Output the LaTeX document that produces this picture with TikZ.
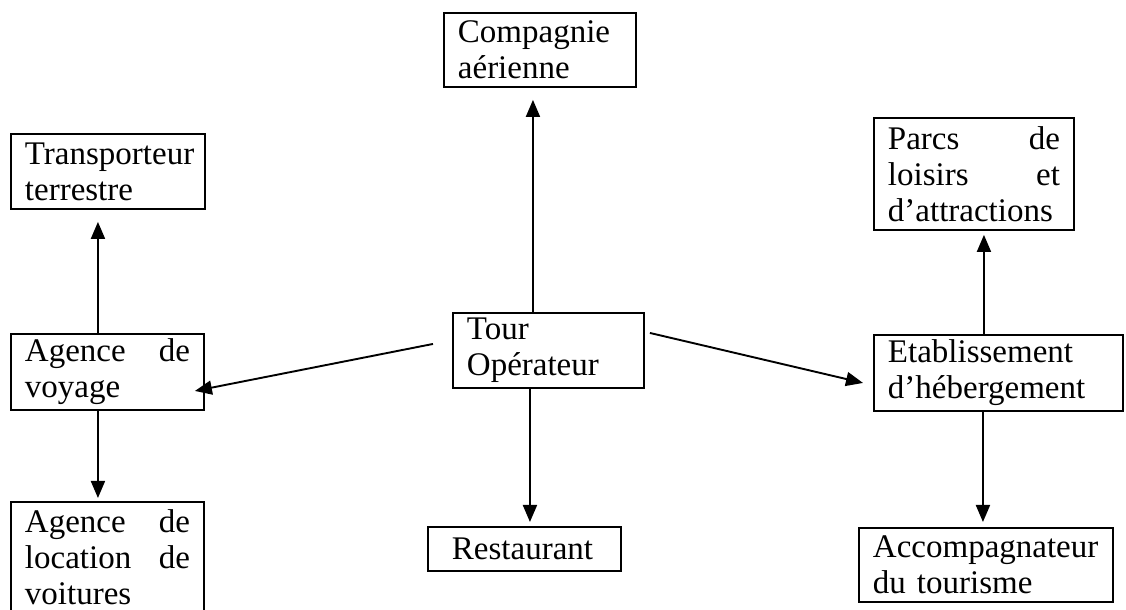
\documentclass[tikz,border=0pt]{standalone}
\usepackage{fontspec}
\setmainfont{Liberation Serif}
\usetikzlibrary{arrows.meta}
\tikzset{
  box/.style={draw=black,rectangle,line width=1.9bp,anchor=north west,
    inner xsep=14bp,inner ysep=0bp,align=left,
    font=\fontsize{33bp}{36bp}\selectfont},
}
\begin{document}
\begin{tikzpicture}[>={Triangle[length=17bp,width=14bp]},line width=1.9bp]
\useasboundingbox (0bp,0bp) rectangle (1126bp,610bp);
%%
\node (compagnie) at (443bp,598bp) [box,minimum width=192bp,minimum height=74bp,text width=164bp] {Compagnie\\a\'erienne};
  \node (transporteur) at (10bp,477bp) [box,minimum width=194bp,minimum height=75bp,text width=166bp] {Transporteur\\terrestre};
  \node (parcs) at (873bp,493bp) [box,minimum width=200bp,minimum height=112bp,text width=172bp] {Parcs\hfill de\\loisirs\hfill et\\d'attractions};
  \node (tour) at (452bp,298bp) [box,minimum width=191bp,minimum height=75bp,text width=163bp] {Tour\\Op\'erateur};
  \node (voyage) at (10bp,277bp) [box,minimum width=193bp,minimum height=76bp,text width=165bp] {Agence\hfill de\\voyage};
  \node (etab) at (873bp,276bp) [box,minimum width=249bp,minimum height=76bp,text width=221bp] {Etablissement\\d'h\'ebergement};
  \node (location) at (10bp,109bp) [box,minimum width=193bp,minimum height=110bp,text width=165bp] {Agence\hfill de\\location\hfill de\\voitures};
  \node (restaurant) at (427bp,84bp) [box,minimum width=193bp,minimum height=44bp,text width=165bp] {\hspace*{10bp}Restaurant};
  \node (accomp) at (858bp,83bp) [box,minimum width=254bp,minimum height=74bp,text width=226bp] {Accompagnateur\\du tourisme};
  \draw [->] ([xshift=-15.5bp]tour.north) -- ([xshift=-7bp]compagnie.south) [shorten >=12bp];
  \draw [->] ([xshift=-19bp,yshift=6.5bp]tour.west) -- ([xshift=-10bp,yshift=-19bp]voyage.east);
  \draw [->] ([xshift=5bp,yshift=17.5bp]tour.east) -- ([xshift=-10bp,yshift=-10bp]etab.west);
  \draw [->,shorten >=4bp] ([xshift=-18.5bp]tour.south) -- ([xshift=5.5bp]restaurant.north);
  \draw [->,shorten >=12bp] ([xshift=-9.5bp]voyage.north) -- ([xshift=-10bp]transporteur.south);
  \draw [->,shorten >=3bp] ([xshift=-9.5bp]voyage.south) -- ([xshift=-9.5bp]location.north);
  \draw [->,shorten >=4bp] ([xshift=-14.5bp]etab.north) -- ([xshift=10bp]parcs.south);
  \draw [->,shorten >=5bp] ([xshift=-15.5bp]etab.south) -- ([xshift=-3bp]accomp.north);
%
\end{tikzpicture}
\end{document}
